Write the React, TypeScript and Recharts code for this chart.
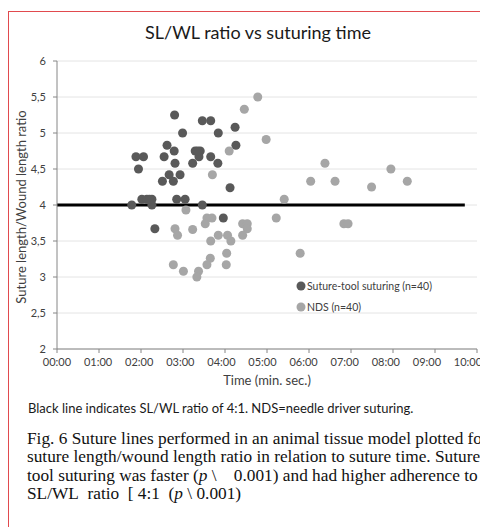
import React from 'react';
import { ScatterChart, Scatter, XAxis, YAxis, ZAxis, CartesianGrid, ReferenceLine } from 'recharts';

// minutes (decimal) and SL/WL ratio
const toolX = [2.80, 3.46, 3.66, 4.24, 2.99, 3.84, 2.62, 4.26, 2.79, 3.29, 3.41, 1.88, 2.06, 2.55, 3.38, 3.66, 2.81, 3.23, 3.83, 1.94, 2.67, 2.93, 2.51, 2.77, 4.12, 2.02, 2.14, 2.26, 2.85, 3.05, 1.78, 2.26, 3.46, 2.33, 3.96, 3.35, 2.20];
const toolY = [5.25, 5.17, 5.17, 5.08, 5.00, 5.00, 4.83, 4.83, 4.75, 4.75, 4.75, 4.67, 4.67, 4.67, 4.67, 4.67, 4.58, 4.58, 4.58, 4.50, 4.42, 4.42, 4.33, 4.33, 4.24, 4.08, 4.08, 4.08, 4.08, 4.08, 4.00, 4.00, 4.00, 3.67, 3.82, 4.75, 4.08];

const ndsX = [4.78, 4.46, 4.98, 4.10, 6.38, 3.70, 6.04, 6.62, 7.95, 8.34, 7.49, 5.41, 3.07, 3.57, 3.69, 5.22, 3.53, 4.42, 4.53, 6.83, 6.93, 2.81, 3.23, 2.87, 4.53, 4.42, 3.84, 4.06, 4.14, 3.66, 4.04, 5.79, 3.65, 3.57, 4.03, 2.77, 3.01, 3.37, 3.33];
const ndsY = [5.50, 5.33, 4.91, 4.75, 4.58, 4.42, 4.33, 4.33, 4.50, 4.33, 4.25, 4.08, 3.93, 3.82, 3.82, 3.82, 3.74, 3.74, 3.74, 3.74, 3.74, 3.67, 3.66, 3.58, 3.67, 3.58, 3.58, 3.58, 3.50, 3.50, 3.33, 3.33, 3.26, 3.17, 3.17, 3.17, 3.08, 3.08, 3.00];

const seriesNames = ['Suture-tool suturing (n=40)', 'NDS (n=40)'];
const seriesColors = ['#595959', '#a6a6a6'];

const xTicks = [0, 1, 2, 3, 4, 5, 6, 7, 8, 9, 10];
const xTickLabels = ['00:00', '01:00', '02:00', '03:00', '04:00', '05:00', '06:00', '07:00', '08:00', '09:00', '10:00'];
const yTicks = [2, 2.5, 3, 3.5, 4, 4.5, 5, 5.5, 6];
const yTickLabels = ['2', '2,5', '3', '3,5', '4', '4,5', '5', '5,5', '6'];

const targetRatio = 4;
const targetLineX = [0, 9.71];

const toolData = toolX.map((x, i) => ({ x, y: toolY[i] }));
const ndsData = ndsX.map((x, i) => ({ x, y: ndsY[i] }));

const axisFont = { fill: '#404040', fontSize: 11, fontFamily: 'Lato' };

// excel lays the time labels out a touch tighter than the tick marks
const TimeTick = (props: any) => {
    const { x, y, payload } = props;
    const i = xTicks.indexOf(payload.value);
    return (
        <text x={x - i * 0.9} y={y} dy="0.71em" textAnchor="middle" {...axisFont}>
            {xTickLabels[i]}
        </text>
    );
};

export default function App() {
    return (
        <div style={{ position: 'relative', width: 480, height: 519, overflow: 'hidden', fontFamily: 'Lato' }}>
            <div style={{ position: 'absolute', left: 0, top: 3, width: 560, height: 620, border: '1px solid #e14a4e' }} />
            <div style={{ position: 'absolute', left: 250, top: 13, transform: 'translateX(-50%)', whiteSpace: 'nowrap', fontSize: 18, color: '#1a1a1a' }}>
                SL/WL ratio vs suturing time
            </div>
            <div style={{ position: 'absolute', left: 0, top: 0 }}>
                <ScatterChart width={480} height={361} margin={{ top: 53, right: 11, left: 0, bottom: 0 }}>
                    <CartesianGrid horizontal vertical={false} stroke="#e4e4e4" />
                    <XAxis
                        type="number"
                        dataKey="x"
                        domain={[0, 10]}
                        ticks={xTicks}
                        tick={<TimeTick />}
                        stroke="#868686"
                        tickSize={4}
                        tickMargin={5}
                        height={20}
                        interval={0}
                    />
                    <YAxis
                        type="number"
                        dataKey="y"
                        domain={[2, 6]}
                        ticks={yTicks}
                        tickFormatter={(v: number) => yTickLabels[yTicks.indexOf(v)]}
                        tick={axisFont}
                        stroke="#868686"
                        tickSize={4}
                        tickMargin={7}
                        width={49}
                        interval={0}
                    />
                    <ZAxis range={[66, 66]} />
                    <ReferenceLine
                        segment={[{ x: targetLineX[0], y: targetRatio }, { x: targetLineX[1], y: targetRatio }]}
                        stroke="#000"
                        strokeWidth={3}
                    />
                    <Scatter name={seriesNames[0]} data={toolData} fill={seriesColors[0]} isAnimationActive={false} />
                    <Scatter name={seriesNames[1]} data={ndsData} fill={seriesColors[1]} isAnimationActive={false} />
                </ScatterChart>
            </div>
            {/* legend */}
            <div style={{ position: 'absolute', left: 288, top: 267 }}>
                {seriesNames.map((name, i) => (
                    <div key={name} style={{ display: 'flex', alignItems: 'center', height: 21, fontSize: 10.5, color: '#404040' }}>
                        <svg width={10} height={10}>
                            <circle cx={5} cy={5} r={4.5} fill={seriesColors[i]} />
                        </svg>
                        <span style={{ marginLeft: 1, whiteSpace: 'nowrap' }}>{name}</span>
                    </div>
                ))}
            </div>
            <div style={{ position: 'absolute', left: 13, top: 199, width: 0, height: 0 }}>
                <div style={{ position: 'absolute', left: 0, top: 0, transform: 'translate(-50%, -50%) rotate(-90deg)', whiteSpace: 'nowrap', fontSize: 13, color: '#404040' }}>
                    Suture length/Wound length ratio
                </div>
            </div>
            <div style={{ position: 'absolute', left: 259, top: 364, transform: 'translateX(-50%)', whiteSpace: 'nowrap', fontSize: 13, color: '#404040' }}>
                Time (min. sec.)
            </div>
            <div style={{ position: 'absolute', left: 20, top: 392, whiteSpace: 'nowrap', fontSize: 13, color: '#1a1a1a' }}>
                Black line indicates SL/WL ratio of 4:1. NDS=needle driver suturing.
            </div>
            <div style={{ position: 'absolute', left: 19, top: 422, width: 540, fontFamily: '"Liberation Serif", serif', fontSize: 17.3, lineHeight: '18.3px', color: '#111', whiteSpace: 'nowrap' }}>
                Fig. 6 Suture lines performed in an animal tissue model plotted for<br />
                suture length/wound length ratio in relation to suture time. Suture-<br />
                tool suturing was faster (<i>p</i> \&nbsp;&nbsp;&nbsp; 0.001) and had higher adherence to<br />
                SL/WL&nbsp; ratio&nbsp; [ 4:1&nbsp; (<i>p</i> \ 0.001)
            </div>
        </div>
    );
}
